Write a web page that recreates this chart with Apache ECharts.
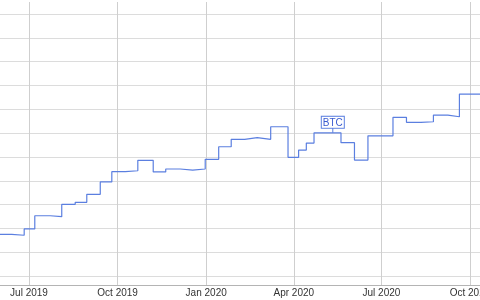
<!DOCTYPE html>
<html><head><meta charset="utf-8">
<script src="https://cdn.jsdelivr.net/npm/echarts@6/dist/echarts.min.js"></script>
<style>html,body{margin:0;padding:0;background:#fff}#c{width:480px;height:300px}</style>
</head><body><div id="c"></div>
<script>
// Dates where the level changes, and the level (difficulty, T) from that date onward
const changeDates = [
  '2019-05-31','2019-06-13','2019-06-26','2019-07-07','2019-07-23','2019-08-04',
  '2019-08-18','2019-08-30','2019-09-13','2019-09-25','2019-10-09','2019-10-22',
  '2019-11-07','2019-11-20','2019-12-05','2019-12-18','2019-12-31','2020-01-14',
  '2020-01-27','2020-02-10','2020-02-23','2020-03-08','2020-03-26','2020-04-06',
  '2020-04-14','2020-04-22','2020-05-20','2020-06-03','2020-06-17','2020-07-13',
  '2020-07-27','2020-08-11','2020-08-24','2020-09-08','2020-09-20'
];
const levels = [
  7.50, 7.42, 7.95, 9.06, 8.98, 10.02,
  10.19, 10.86, 11.90, 12.76, 12.84, 13.72,
  12.74, 12.99, 12.90, 12.99, 13.80, 14.86,
  15.48, 15.62, 15.48, 16.54, 13.97, 14.58,
  15.17, 16.03, 15.20, 13.74, 15.78, 17.33,
  16.91, 16.96, 17.52, 17.38, 19.28
];
const xStart = '2019-05-31 21:00';
const xEnd = '2020-10-11 09:00';
const yMin = 3.2, yMax = 27.02;
const annotationDate = '2020-05-11 12:00';
const annotationValue = 16.03;
const seriesName = 'BTC';
const tickFormat = '{MMM} {yyyy}';

const data = changeDates.map((d, i) => [d, levels[i]]);
data.push([xEnd, levels[levels.length - 1]]);

const chart = echarts.init(document.getElementById('c'));
chart.setOption({
  animation: false,
  backgroundColor: '#ffffff',
  grid: { left: 0, right: 0, top: 2, bottom: 14.5, containLabel: false, outerBoundsMode: 'none' },
  xAxis: {
    type: 'time', min: xStart, max: xEnd, splitNumber: 5,
    axisLine: { show: true, lineStyle: { color: '#b4b4b4', width: 1 } },
    axisTick: { show: false },
    axisLabel: {
      formatter: tickFormat, fontSize: 10, color: '#333', margin: 3,
      fontFamily: 'Liberation Sans, Arial, Helvetica, sans-serif',
      showMinLabel: false, showMaxLabel: false, hideOverlap: false
    },
    splitLine: { show: true, showMinLine: false, showMaxLine: false, lineStyle: { color: '#cfcfcf', width: 1 } }
  },
  yAxis: {
    type: 'value', min: yMin, max: yMax, splitNumber: 12,
    axisLine: { show: false }, axisTick: { show: false }, axisLabel: { show: false },
    splitLine: { show: true, showMinLine: false, showMaxLine: false, lineStyle: { color: '#dcdcdc', width: 1 } }
  },
  series: [{
    name: seriesName, type: 'line', step: 'end', data: data,
    showSymbol: false, symbol: 'none',
    lineStyle: { color: '#5b7fe0', width: 1.2 },
    markPoint: {
      symbol: 'rect', symbolSize: [1, 5], symbolOffset: [0, -2.5],
      itemStyle: { color: '#5b7fe0' },
      label: {
        show: true, position: 'top', distance: 0, formatter: seriesName,
        fontSize: 10, color: '#3a5bd0', fontFamily: 'Liberation Sans, Arial, sans-serif',
        backgroundColor: '#ffffff', borderColor: '#5b7fe0', borderWidth: 1, padding: [1, 1, 0, 1]
      },
      data: [{ coord: [annotationDate, annotationValue] }]
    }
  }]
});
</script></body></html>
